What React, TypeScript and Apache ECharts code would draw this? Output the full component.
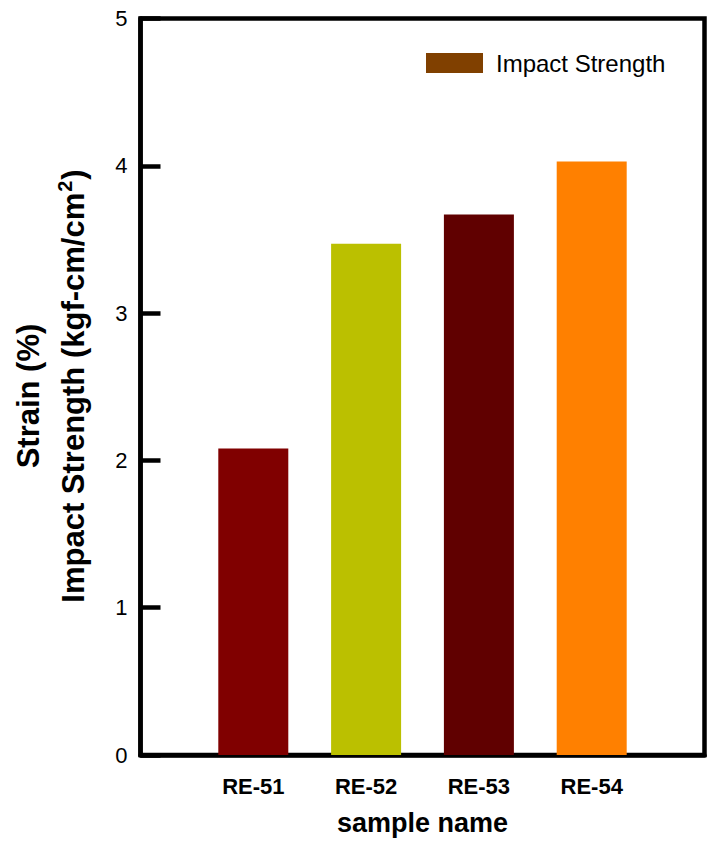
import React, { useEffect, useRef } from "react";
import * as echarts from "echarts";

const categories = ["", "RE-51", "RE-52", "RE-53", "RE-54", ""];
const impactStrength: (number | string)[] = ["-", 2.08, 3.47, 3.67, 4.03, "-"];
const barColors = ["#000000", "#800000", "#bbc000", "#600000", "#ff8000", "#000000"];
const yTicks = [0, 1, 2, 3, 4, 5];
const seriesName = "Impact Strength";
const legendColor = "#804000";

export default function App() {
  const ref = useRef<HTMLDivElement>(null);
  useEffect(() => {
    if (!ref.current) return;
    const chart = echarts.init(ref.current, undefined, { renderer: "svg" });
    const font = "Liberation Sans, Arial, sans-serif";
    chart.setOption({
      animation: false,
      backgroundColor: "#ffffff",
      textStyle: { fontFamily: font },
      grid: {
        left: 140.5,
        right: 21.5,
        top: 18.5,
        bottom: 100,
        show: true,
        borderColor: "#000",
        borderWidth: 4.5,
        containLabel: false,
      },
      legend: {
        show: true,
        left: 426,
        top: 51,
        padding: 0,
        itemWidth: 57,
        itemHeight: 20,
        itemGap: 10,
        icon: "rect",
        textStyle: { fontSize: 24, color: "#000", fontFamily: font, padding: [0, 0, 0, 8] },
        data: [{ name: seriesName, itemStyle: { color: legendColor } }],
      },
      xAxis: {
        type: "category",
        data: categories,
        boundaryGap: false,
        axisLine: { show: true, lineStyle: { color: "#000", width: 4.5 } },
        axisTick: { show: false },
        axisLabel: {
          interval: 0,
          margin: 20,
          fontSize: 22,
          fontWeight: "bold",
          color: "#000",
          fontFamily: font,
        },
        name: "sample name",
        nameLocation: "middle",
        nameGap: 54,
        nameTextStyle: { fontSize: 27, fontWeight: "bold", color: "#000", fontFamily: font },
        splitLine: { show: false },
      },
      yAxis: {
        type: "value",
        min: yTicks[0],
        max: yTicks[yTicks.length - 1],
        interval: 1,
        axisLine: { show: true, lineStyle: { color: "#000", width: 4.5 } },
        axisTick: { show: true, inside: true, length: 20, lineStyle: { color: "#000", width: 4.5 } },
        axisLabel: { margin: 13, fontSize: 22, color: "#000", fontFamily: font },
        splitLine: { show: false },
      },
      graphic: [
        {
          type: "text",
          x: 28,
          y: 396,
          rotation: Math.PI / 2,
          style: {
            text: "Strain (%)",
            font: `bold 31px ${font}`,
            fill: "#000",
            align: "center",
            verticalAlign: "middle",
          },
        },
        {
          type: "text",
          x: 72,
          y: 386,
          rotation: Math.PI / 2,
          style: {
            text: "{a|Impact Strength (kgf-cm/cm}{s|2}{a|)}",
            align: "center",
            verticalAlign: "middle",
            rich: {
              a: { font: `bold 31px ${font}`, fill: "#000", color: "#000", verticalAlign: "bottom" },
              s: {
                font: `bold 20px ${font}`,
                fill: "#000",
                color: "#000",
                verticalAlign: "bottom",
                padding: [0, 1, 14, 1],
              },
            },
          },
        },
      ],
      series: [
        {
          name: seriesName,
          type: "bar",
          barWidth: 70,
          itemStyle: { color: legendColor },
          data: impactStrength.map((v, i) => ({ value: v, itemStyle: { color: barColors[i] } })),
        },
      ],
    });
    return () => chart.dispose();
  }, []);
  return <div ref={ref} style={{ width: 726, height: 855, position: "absolute", left: 0, top: 0 }} />;
}
